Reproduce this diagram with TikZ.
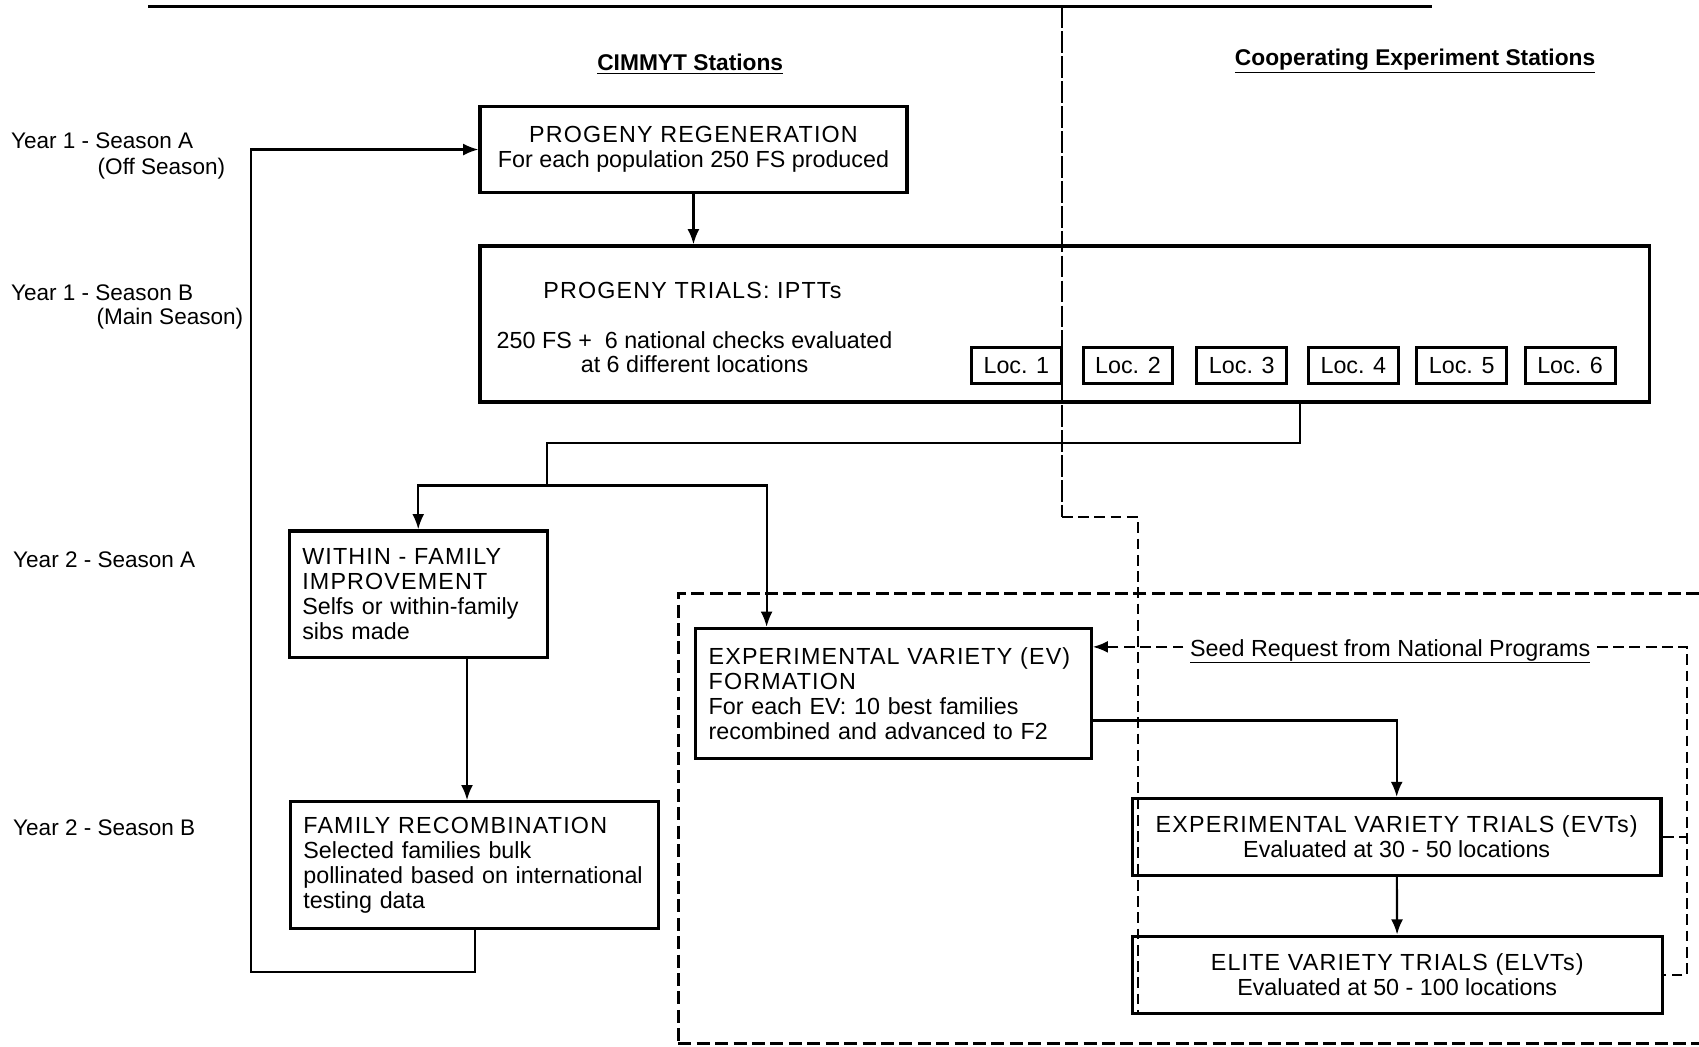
\documentclass[tikz,border=0pt]{standalone}
\usepackage{fontspec}
\setmainfont{Liberation Sans}
\usepackage{tikz}
\usetikzlibrary{arrows.meta}
\newcommand\capline[1]{{\addfontfeature{LetterSpace=5}#1}}

\begin{document}
\begin{tikzpicture}[x=1pt, y=-1pt, >={Latex[length=14pt,width=11pt]},
  box/.style={draw, line width=3pt, inner xsep=12pt, inner ysep=0pt, font=\fontsize{21.5}{23}\selectfont},
  locbox/.style={draw, line width=2.8pt, minimum width=83pt, minimum height=33pt, inner sep=0pt, font=\fontsize{21.5}{23}\selectfont},
  lbl/.style={anchor=west, inner sep=0pt, font=\fontsize{20.8}{23}\selectfont},
  txt/.style={inner sep=0pt, font=\fontsize{21.5}{23}\selectfont},
  head/.style={inner sep=0pt, font=\bfseries\fontsize{21}{23}\selectfont},
  conn/.style={line width=2pt},
  dash line/.style={line width=2pt, dash pattern=on 10pt off 5pt},
  bound/.style={line width=2.8pt, dash pattern=on 12pt off 5pt}]
\useasboundingbox (0,0) rectangle (1568,966);

\draw[line width=3pt] (137,6) -- (1322,6);
\node[head] (cimmyt) at (637,59) {\underline{CIMMYT Stations}};
\node[head] (coop) at (1306,56) {\underline{Cooperating Experiment Stations}};

\node[lbl] (y1a) at (10,130) {Year 1 - Season A};
\node[lbl] (y1aoff) at (90,156) {(Off Season)};
\node[lbl] (y1b) at (10,270) {Year 1 - Season B};
\node[lbl] (y1bmain) at (89,294) {(Main Season)};
\node[lbl] (y2a) at (12,517) {Year 2 - Season A};
\node[lbl] (y2b) at (12,764) {Year 2 - Season B};

\node[box, align=center, minimum width=394pt, minimum height=80pt] (pr) at (640,138) {\capline{PROGENY REGENERATION}\\For each population 250 FS produced};
\node[box, minimum width=1079pt, minimum height=144pt] (pt) at (982.5,299) {};
\node[txt] (pttitle) at (639,268) {\capline{PROGENY TRIALS: IPTTs}};
\node[txt, align=center] (ptnote) at (641,325) {250 FS + \ 6 national checks evaluated\\at 6 different locations};
\foreach \i/\x in {1/938,2/1041,3/1146,4/1249,5/1349,6/1449}
  \node[locbox] (loc\i) at (\x,337) {Loc. \i};

\node[box, text width=214pt, align=left, minimum height=117pt] (wf) at (386,548.5) {\capline{WITHIN - FAMILY}\\\capline{IMPROVEMENT}\\Selfs or within-family\\sibs made};
\node[box, text width=316pt, align=left, minimum height=117pt] (fr) at (438,798.5) {\capline{FAMILY RECOMBINATION}\\Selected families bulk\\pollinated based on international\\testing data};
\node[box, text width=341pt, align=left, minimum height=120pt] (ev) at (824.5,640) {\capline{EXPERIMENTAL VARIETY (EV)}\\\capline{FORMATION}\\For each EV: 10 best families\\recombined and advanced to F2};
\node[box, align=center, minimum width=488pt, minimum height=71pt] (evt) at (1289,772.5) {\capline{EXPERIMENTAL VARIETY TRIALS (EVTs)}\\Evaluated at 30 - 50 locations};
\node[box, align=center, minimum width=489pt, minimum height=71pt] (elvt) at (1289.5,899.5) {\capline{ELITE VARIETY TRIALS (ELVTs)}\\Evaluated at 50 - 100 locations};
\node[txt, inner xsep=6pt] (seed) at (1283,601) {\underline{Seed Request from National Programs}};

% station boundaries
\draw[line width=1.8pt, dash pattern=on 20pt off 3pt] (980,6) -- (980,477);
\draw[dash line] (980,477) -- (1050,477) -- (1050,935);
\draw[bound] (1568,548) -| (626,966);
\draw[bound] (626,963) -- (1568,963);

\coordinate (split) at (505,448);
\coordinate (back) at (232,897);
\coordinate (rt) at (1557,597);
\draw[conn,->] (pr) -- (pr.south |- pt.north);
\draw[conn] ([xshift=217pt]pt.south) -- ++(0,36) -| (split);
\draw[conn,->] (split) -| (wf.north);
\draw[conn,->] (split) -| ([xshift=67pt]ev.north west);
\draw[conn,->] ([xshift=45pt]wf.south) -- ([xshift=45pt]wf.south |- fr.north);
\draw[conn,->] (fr.south) |- (back) |- (pr.west);
\draw[conn,->] ([yshift=-25pt]ev.east) -| (evt.north);
\draw[conn,->] (evt) -- (elvt);

% seed requests
\draw[dash line,->] ([yshift=4pt]seed.west) -- ([yshift=4pt]seed.west -| ev.east);
\draw[dash line] ([yshift=4pt]seed.east) -- (rt) |- (elvt.east);
\draw[dash line] (evt.east) -- (evt.east -| rt);
\end{tikzpicture}
\end{document}
